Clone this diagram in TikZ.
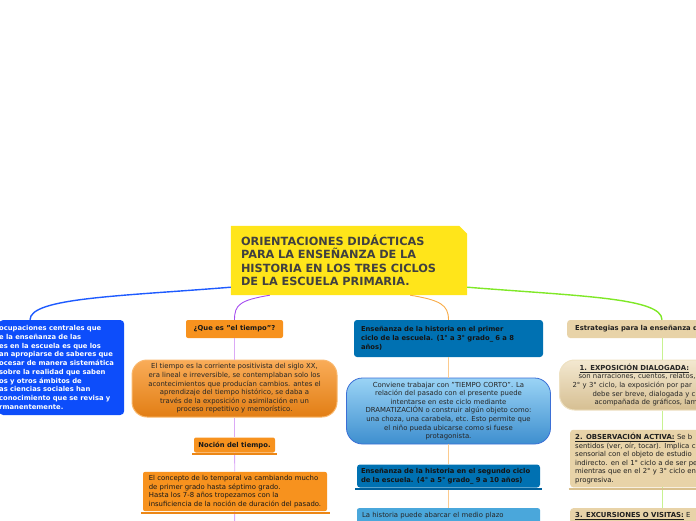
\documentclass[tikz,border=0pt]{standalone}
\usepackage{fontspec}
\setmainfont{DejaVu Sans}
\usepackage{tikz}
\pgfdeclarelayer{background}
\pgfsetlayers{background,main}
\definecolor{mapYellow}{HTML}{FFE51A}
\definecolor{mapTitle}{HTML}{404040}
\definecolor{mapBlue}{HTML}{0D4DFA}
\definecolor{mapOrange}{HTML}{F7921E}
\definecolor{mapOrangeBar}{HTML}{EC8716}
\definecolor{mapOrangeLt}{HTML}{F9AC58}
\definecolor{mapOrangeDk}{HTML}{E27E14}
\definecolor{mapOrangeRim}{HTML}{F9B86E}
\definecolor{mapSea}{HTML}{0071B2}
\definecolor{mapSeaBar}{HTML}{00609C}
\definecolor{mapSky}{HTML}{4AA7DB}
\definecolor{mapSkyLt}{HTML}{9AD3F5}
\definecolor{mapSkyDk}{HTML}{3E8FCF}
\definecolor{mapSkyRim}{HTML}{3B6FD6}
\definecolor{mapSand}{HTML}{E8D3A8}
\definecolor{mapSandBar}{HTML}{D9C08E}
\definecolor{mapSandLt}{HTML}{F3E8D0}
\definecolor{mapSandDk}{HTML}{D6BF92}
\definecolor{mapSandRim}{HTML}{EEE1C2}
\definecolor{lnBlue}{HTML}{1E5BFF}
\definecolor{lnPurple}{HTML}{A64DF0}
\definecolor{lnPurpleLt}{HTML}{DBA9F6}
\definecolor{lnOrange}{HTML}{F8AA45}
\definecolor{lnOrangeLt}{HTML}{FCCB8E}
\definecolor{lnGreen}{HTML}{7FE827}
\definecolor{lnGreenLt}{HTML}{C8F290}
\tikzset{
  titlebox/.style={text=mapTitle,font=\bfseries\fontsize{11.3}{13.5}\selectfont,
    align=left,text width=216pt,inner xsep=10pt,minimum height=69pt},
  ideabox/.style={fill=mapBlue,text=white,rounded corners=4pt,
    font=\bfseries\fontsize{6.8}{8.7}\selectfont,align=left,inner xsep=0pt,
    text width=125pt,minimum height=95pt},
  orangebox/.style={fill=mapOrange,rounded corners=2pt,text=black!90,align=left},
  softorange/.style={top color=mapOrangeLt,bottom color=mapOrangeDk,draw=mapOrangeRim,
    line width=1pt,rounded corners=15pt,text=black!85,align=center},
  seabox/.style={fill=mapSea,rounded corners=3pt,text=black!92,align=left},
  softsky/.style={top color=mapSkyLt,bottom color=mapSkyDk,draw=mapSkyRim,
    line width=0.8pt,rounded corners=16pt,text=black!85,align=center},
  skybox/.style={fill=mapSky,rounded corners=2pt,text=black!85,align=left},
  sandbox/.style={fill=mapSand,rounded corners=3pt,text=black!88,align=left},
  softsand/.style={top color=mapSandLt,bottom color=mapSandDk,draw=mapSandRim,
    line width=1pt,rounded corners=15pt,text=black!85,align=left},
  smalltxt/.style={font=\fontsize{6.9}{8.6}\selectfont},
  boldtxt/.style={font=\bfseries\fontsize{6.8}{8.8}\selectfont},
  bar/.style={line width=2pt},
  branch/.style={line width=1.4pt},
  stem/.style={line width=0.9pt}
}
\begin{document}
\begin{tikzpicture}[x=1pt,y=-1pt]
  \useasboundingbox (0,0) rectangle (696,520);

  % central topic
  \node[titlebox] (title) at (349,260.5)
    {ORIENTACIONES DIDÁCTICAS\\PARA LA ENSEÑANZA DE LA\\HISTORIA EN LOS TRES CICLOS\\DE LA ESCUELA PRIMARIA.};
  \begin{pgfonlayer}{background}
    \fill[mapYellow] (title.south west) -- (title.north west)
      -- ([xshift=-8pt]title.north east) -- ([yshift=-8pt]title.north east)
      -- (title.south east) -- cycle;
  \end{pgfonlayer}

  % left branch
  \node[ideabox, anchor=west] (ideas) at (-1,367.5)
    {ocupaciones centrales que\\e la enseñanza de las\\es en la escuela es que los\\an apropiarse de saberes que\\ocesar de manera sistemática\\ sobre la realidad que saben\\os y otros ámbitos de\\as ciencias sociales han\\ conocimiento que se revisa y\\rmanentemente.};

  % el tiempo
  \node[orangebox, boldtxt, minimum width=97pt, minimum height=18pt] (tiempoQ) at (234.5,329)
    {¿Que es "el tiempo"?};
  \node[softorange, smalltxt, minimum width=205pt, minimum height=57pt] (tiempoDef) at (234.5,388.5)
    {El tiempo es la corriente positivista del siglo XX,\\era lineal e irreversible, se contemplaban solo los\\acontecimientos que producían cambios. antes el\\aprendizaje del tiempo histórico, se daba a\\través de la exposición o asimilación en un\\proceso repetitivo y memorístico.};
  \node[orangebox, boldtxt, minimum width=81pt, minimum height=15pt] (nocion) at (234.5,445)
    {Noción del tiempo.};
  \node[orangebox, smalltxt, minimum width=184pt, minimum height=39pt] (concepto) at (235,491.5)
    {El concepto de lo temporal va cambiando mucho\\de primer grado hasta séptimo grado.\\Hasta los 7-8 años tropezamos con la\\insuficiencia de la noción de duración del pasado.};
  \coordinate (tiempoEnd) at (234.5,524);

  % ciclos
  \node[seabox, boldtxt, text width=175pt, inner xsep=7pt, minimum height=37pt] (ciclo1) at (448.5,338.5)
    {Enseñanza de la historia en el primer\\ciclo de la escuela. (1° a 3° grado\_ 6 a 8\\años)};
  \node[softsky, smalltxt, minimum width=204pt, minimum height=66pt] (conviene) at (448.5,411)
    {Conviene trabajar con "TIEMPO CORTO". La\\relación del pasado con el presente puede\\intentarse en este ciclo mediante\\DRAMATIZACIÓN o construir algún objeto como:\\una choza, una carabela, etc. Esto permite que\\el niño pueda ubicarse como si fuese\\protagonista.};
  \node[seabox, boldtxt, text width=175pt, inner xsep=4pt, minimum height=23pt] (ciclo2) at (448.5,476)
    {Enseñanza de la historia en el segundo ciclo\\de la escuela. (4° a 5° grado\_ 9 a 10 años)};
  \node[skybox, smalltxt, text width=173pt, inner xsep=5pt, inner ysep=4pt, anchor=north] (medio) at (448.5,508)
    {La historia puede abarcar el medio plazo};

  % estrategias
  \coordinate (gcol) at (662,0);
  \node[sandbox, boldtxt, text width=140pt, inner xsep=8pt, minimum height=18pt, anchor=west] (estrat) at (567,329)
    {Estrategias para la enseñanza d};
  \node[softsand, smalltxt, text width=160pt, inner xsep=13pt, minimum height=50pt, anchor=west] (expo) at (559,385)
    {\hspace*{7pt}\underline{\textbf{1. EXPOSICIÓN DIALOGADA:}}\\\hspace*{6pt}son narraciones, cuentos, relatos,\\2° y 3° ciclo, la exposición por par\\\hspace*{20pt}debe ser breve, dialogada y c\\\hspace*{22pt}acompañada de gráficos, lam};
  \node[sandbox, smalltxt, text width=160pt, inner xsep=5pt, minimum height=57pt, anchor=west] (observ) at (570,458.5)
    {\underline{\textbf{2. OBSERVACIÓN ACTIVA:}} Se b\\sentidos (ver, oír, tocar). Implica c\\sensorial con el objeto de estudio\\indirecto. en el 1° ciclo a de ser pe\\mientras que en el 2° y 3° ciclo en\\progresiva.};
  \node[sandbox, smalltxt, text width=160pt, inner xsep=5pt, inner ysep=4pt, anchor=north west] (excur) at (570,508)
    {\underline{\textbf{3. EXCURSIONES O VISITAS:}} E};

  % branches from the title
  \draw[branch, lnBlue] ([yshift=8pt]title.south west) .. controls +(-111,9) and +(0,-22) .. ([xshift=31pt]ideas.north west);
  \draw[stem, lnPurple] ([xshift=39pt]title.south west) .. controls +(-30,5) and +(0,-15) .. (tiempoQ.north);
  \draw[stem, lnOrange] ([xshift=-57pt]title.south east) .. controls +(30,5) and +(0,-15) .. (ciclo1.north);
  \draw[branch, lnGreen] ([yshift=8pt]title.south east) .. controls +(113,9) and +(0,-22) .. (estrat.north -| gcol);

  % stems
  \draw[stem, lnPurpleLt] (tiempoQ) -- (tiempoDef);
  \draw[stem, lnPurpleLt] (tiempoDef) -- (nocion);
  \draw[stem, lnPurpleLt] (nocion) -- (concepto);
  \draw[stem, lnPurpleLt] (concepto) -- (tiempoEnd);
  \draw[stem, lnOrangeLt] (ciclo1) -- (conviene);
  \draw[stem, lnOrangeLt] (conviene) -- (ciclo2);
  \draw[stem, lnOrangeLt] (ciclo2) -- (medio);
  \draw[stem, lnGreenLt] (estrat.south -| gcol) -- (expo.north -| gcol);
  \draw[stem, lnGreenLt] (expo.south -| gcol) -- (observ.north -| gcol);
  \draw[stem, lnGreenLt] (observ.south -| gcol) -- (excur.north -| gcol);

  % underline bars
  \draw[bar, mapOrangeBar] ([xshift=-1.5pt,yshift=-1.5pt]nocion.south west) -- ([xshift=1.5pt,yshift=-1.5pt]nocion.south east);
  \draw[bar, mapOrangeBar] ([xshift=-1.5pt,yshift=-1.5pt]concepto.south west) -- ([xshift=2.5pt,yshift=-1.5pt]concepto.south east);
  \draw[bar, mapSeaBar] ([xshift=-1.5pt,yshift=-1.5pt]ciclo2.south west) -- ([xshift=1.5pt,yshift=-1.5pt]ciclo2.south east);
  \draw[bar, mapSandBar] ([xshift=-1.5pt,yshift=-1.5pt]observ.south west) -- ([yshift=-1.5pt]observ.south east);
\end{tikzpicture}
\end{document}
